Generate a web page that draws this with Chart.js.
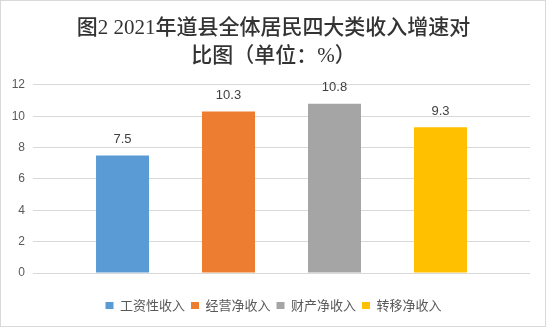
<!DOCTYPE html>
<html>
<head>
<meta charset="utf-8">
<script src="https://cdn.jsdelivr.net/npm/chart.js@4/dist/chart.umd.min.js"></script>
<style>
  html, body { margin: 0; padding: 0; background: #fff; }
  #wrap { width: 547px; height: 328px; }
</style>
</head>
<body>
<div id="wrap"><canvas id="growthChart" width="547" height="328"></canvas></div>
<script>
// 2021 Daoxian resident income growth, by income type (%)
const incomeTypes = ['工资性收入', '经营净收入', '财产净收入', '转移净收入'];
const growthRates = [7.5, 10.3, 10.8, 9.3];
const yTicks = [0, 2, 4, 6, 8, 10, 12];

const barColors = ['#5B9BD5', '#ED7D31', '#A5A5A5', '#FFC000'];
const latin = "'Liberation Sans', 'Noto Sans CJK SC', sans-serif";

// value labels above each bar (no datalabels plugin offline)
const valueLabels = {
    id: 'valueLabels',
    afterDatasetsDraw(chart) {
        const ctx = chart.ctx;
        ctx.save();
        ctx.font = '13px ' + latin;
        ctx.fillStyle = '#404040';
        ctx.textAlign = 'center';
        ctx.textBaseline = 'alphabetic';
        chart.data.datasets.forEach((ds, i) => {
            const meta = chart.getDatasetMeta(i);
            meta.data.forEach((bar, j) => {
                ctx.fillText(String(ds.data[j]), bar.x, bar.y - 12.5);
            });
        });
        ctx.restore();
    }
};

// thin frame round the whole chart
const frame = {
    id: 'frame',
    afterDraw(chart) {
        const ctx = chart.ctx;
        ctx.save();
        ctx.strokeStyle = '#d9d9d9';
        ctx.lineWidth = 1;
        ctx.strokeRect(0.5, 0.5, 545, 326);
        ctx.restore();
    }
};

new Chart('growthChart', {
    type: 'bar',
    data: {
        labels: [''],
        datasets: incomeTypes.map((name, i) => ({
            label: name,
            data: [growthRates[i]],
            backgroundColor: barColors[i],
            categoryPercentage: 0.853,
            barPercentage: 0.5
        }))
    },
    plugins: [valueLabels, frame],
    options: {
        responsive: false,
        animation: false,
        layout: {
            padding: { left: 0, right: 0, top: 0, bottom: 6 }
        },
        scales: {
            x: {
                grid: { display: false },
                border: { display: false },
                ticks: { display: false },
                afterFit(s) { s.height = 20; }
            },
            y: {
                min: 0,
                max: 12,
                afterBuildTicks(s) { s.ticks = yTicks.map(v => ({ value: v })); },
                grid: { color: '#d9d9d9', lineWidth: 1, drawTicks: false },
                border: { display: false },
                ticks: {
                    padding: 8,
                    color: '#595959',
                    font: { size: 12, family: latin }
                },
                afterFit(s) { s.width = 33; }
            },
            // spacer on the right so the title and legend stay centred
            spacer: {
                position: 'right',
                display: true,
                grid: { display: false },
                border: { display: false },
                ticks: { display: false },
                afterFit(s) { s.width = 17; }
            }
        },
        plugins: {
            title: {
                display: true,
                text: ['图2 2021年道县全体居民四大类收入增速对', '比图（单位：%）'],
                color: '#333333',
                font: { size: 21, weight: 500, family: "'Liberation Serif', 'Noto Sans CJK SC', serif", lineHeight: 1.33 },
                padding: { top: 15, bottom: 14 }
            },
            legend: {
                position: 'bottom',
                labels: {
                    boxWidth: 8,
                    boxHeight: 7,
                    padding: 6,
                    color: '#595959',
                    font: { size: 13, family: "'Noto Sans CJK SC', sans-serif" }
                }
            },
            tooltip: { enabled: false }
        }
    }
});
</script>
</body>
</html>
